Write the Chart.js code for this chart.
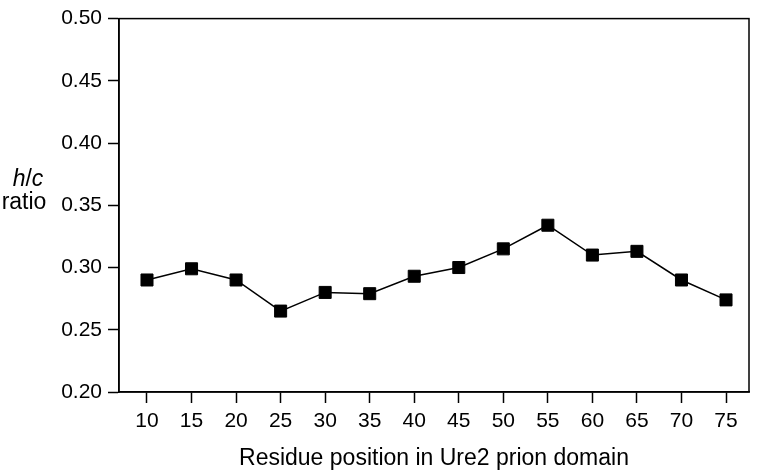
<!DOCTYPE html>
<html>
<head>
<meta charset="utf-8">
<script src="https://cdn.jsdelivr.net/npm/chart.js@4/dist/chart.umd.min.js"></script>
<style>
    html, body { margin: 0; padding: 0; background: #fff; }
    #wrap { width: 759px; height: 476px; position: relative; }
</style>
</head>
<body>
<div id="wrap"><canvas id="chart"></canvas></div>
<script>
// residue positions along the Ure2 prion domain
const positions = [10, 15, 20, 25, 30, 35, 40, 45, 50, 55, 60, 65, 70, 75];
// h/c ratio
const hcRatio = [0.290, 0.299, 0.290, 0.265, 0.280, 0.279, 0.293, 0.300, 0.315, 0.334, 0.310, 0.313, 0.290, 0.274];
const yTicks = [0.20, 0.25, 0.30, 0.35, 0.40, 0.45, 0.50];

const FONT = '"Liberation Sans", Arial, sans-serif';

// frame round the plot area (top and right sides too)
const frame = {
    id: 'frame',
    afterDraw(chart) {
        const { ctx, chartArea: a } = chart;
        ctx.save();
        ctx.strokeStyle = '#000';
        ctx.lineWidth = 1.5;
        ctx.strokeRect(a.left, a.top, a.right - a.left, a.bottom - a.top);
        ctx.restore();
    }
};

// horizontal y title, "h/c" in italics over "ratio"
const yTitle = {
    id: 'yTitle',
    afterDraw(chart) {
        const ctx = chart.ctx;
        const cx = 28;
        ctx.save();
        ctx.fillStyle = '#000';
        ctx.textBaseline = 'middle';
        ctx.textAlign = 'left';
        const parts = [['h', 'italic'], ['/', 'normal'], ['c', 'italic']];
        let total = 0;
        parts.forEach(p => { ctx.font = p[1] + ' 23px ' + FONT; total += ctx.measureText(p[0]).width; });
        let x = cx - total / 2;
        parts.forEach(p => {
            ctx.font = p[1] + ' 23px ' + FONT;
            ctx.fillText(p[0], x, 180);
            x += ctx.measureText(p[0]).width;
        });
        ctx.font = '23px ' + FONT;
        ctx.textAlign = 'center';
        ctx.fillText('ratio', 24, 203);
        ctx.restore();
    }
};

new Chart(document.getElementById('chart'), {
    type: 'line',
    data: {
        datasets: [{
            data: positions.map((p, i) => ({ x: p, y: hcRatio[i] })),
            borderColor: '#000',
            borderWidth: 1.5,
            pointStyle: 'rect',
            pointRadius: 8.5,
            pointBackgroundColor: '#000',
            pointBorderColor: '#000',
            pointBorderWidth: 1,
            tension: 0
        }]
    },
    options: {
        responsive: true,
        maintainAspectRatio: false,
        animation: false,
        events: [],
        layout: { padding: { top: 13, right: 10, left: 0, bottom: 0 } },
        plugins: { legend: { display: false }, tooltip: { enabled: false } },
        scales: {
            x: {
                type: 'linear',
                min: 6.857,
                max: 77.58,
                afterBuildTicks: s => { s.ticks = positions.map(v => ({ value: v })); },
                afterFit: s => { s.height = 84; },
                grid: { drawOnChartArea: false, drawTicks: true, tickLength: 11, tickColor: '#000', tickWidth: 1.5 },
                border: { display: true, color: '#000', width: 1.5 },
                ticks: { color: '#000', padding: 6, maxRotation: 0, font: { family: FONT, size: 21 } },
                title: {
                    display: true,
                    text: 'Residue position in Ure2 prion domain',
                    color: '#000',
                    padding: { top: 0, bottom: 4 },
                    font: { family: FONT, size: 23 }
                }
            },
            y: {
                min: 0.2,
                max: 0.5,
                afterBuildTicks: s => { s.ticks = yTicks.map(v => ({ value: v })); },
                afterFit: s => { s.width = 119; },
                grid: { drawOnChartArea: false, drawTicks: true, tickLength: 11, tickColor: '#000', tickWidth: 1.5 },
                border: { display: true, color: '#000', width: 1.5 },
                ticks: { color: '#000', padding: 6, callback: v => v.toFixed(2), font: { family: FONT, size: 21 } }
            }
        }
    },
    plugins: [frame, yTitle]
});
</script>
</body>
</html>
